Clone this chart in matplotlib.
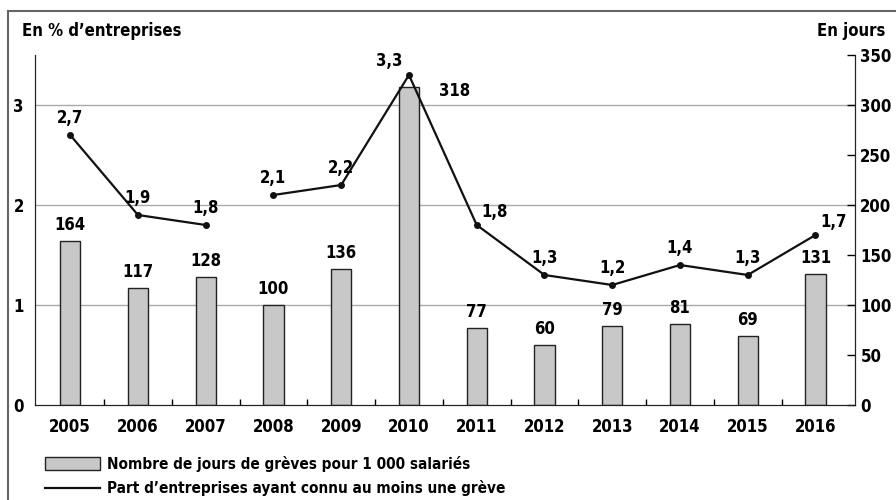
import numpy as np
import matplotlib.pyplot as plt
from matplotlib.lines import Line2D
from matplotlib.patches import Patch

plt.rcParams['font.family'] = ['DejaVu Sans']
plt.rcParams['font.stretch'] = 'condensed'
plt.rcParams['font.weight'] = 'bold'

# donnees
annees = ['2005', '2006', '2007', '2008', '2009', '2010', '2011', '2012', '2013', '2014', '2015', '2016']
jours = [164, 117, 128, 100, 136, 318, 77, 60, 79, 81, 69, 131]
part = [2.7, 1.9, 1.8, 2.1, 2.2, 3.3, 1.8, 1.3, 1.2, 1.4, 1.3, 1.7]
part_txt = ['2,7', '1,9', '1,8', '2,1', '2,2', '3,3', '1,8', '1,3', '1,2', '1,4', '1,3', '1,7']
rupture = 3  # serie interrompue entre 2007 et 2008

fig = plt.figure(figsize=(8.96, 5), dpi=100)
ax = fig.add_axes([0.039, 0.19, 0.915, 0.70])
ax2 = ax.twinx()

x = np.arange(len(annees))

# barres (axe de droite)
ax2.bar(x, jours, width=0.3, color='#c8c8c8', edgecolor='#222222', linewidth=1.0, zorder=2)
for i, v in enumerate(jours):
    if annees[i] == '2010':
        ax2.text(i + 0.45, v - 4, str(v), ha='left', va='center', fontsize=12)
    else:
        ax2.text(i, v + 7, str(v), ha='center', va='bottom', fontsize=12)
ax2.set_ylim(0, 350)
ax2.set_yticks(range(0, 351, 50))
ax2.tick_params(axis='y', direction='in', length=6, width=1, labelsize=12, pad=4)
ax2.grid(False)

# courbe (axe de gauche), tracee au-dessus des barres
ax.set_zorder(ax2.get_zorder() + 1)
ax.patch.set_visible(False)
ax.plot(x[:rupture], part[:rupture], color='#111111', lw=1.6, marker='o', ms=4)
ax.plot(x[rupture:], part[rupture:], color='#111111', lw=1.6, marker='o', ms=4)
for i, (v, t) in enumerate(zip(part, part_txt)):
    if annees[i] in ('2011', '2016'):
        ax.text(i + 0.07, v + 0.04, t, ha='left', va='bottom', fontsize=12)
    elif annees[i] == '2010':
        ax.text(i - 0.1, v + 0.05, t, ha='right', va='bottom', fontsize=12)
    else:
        ax.text(i, v + 0.08, t, ha='center', va='bottom', fontsize=12)

ax.set_ylim(0, 3.5)
ax.set_yticks([0, 1, 2, 3])
ax.tick_params(axis='y', length=0, labelsize=12, pad=8)
ax.set_xlim(-0.52, len(annees) - 0.42)
ax.set_xticks(x)
ax.set_xticklabels(annees)
ax.set_xticks(x[:-1] + 0.5, minor=True)
ax.tick_params(axis='x', which='major', length=0, labelsize=12, pad=9)
ax.tick_params(axis='x', which='minor', direction='in', length=4, width=1)
for yv in [1, 2, 3]:
    ax2.axhline(yv * 100, color='#aaaaaa', lw=1, zorder=0)

for a in (ax, ax2):
    a.spines['top'].set_visible(False)
    a.spines['left'].set_color('#222222')
    a.spines['right'].set_color('#222222')
    a.spines['bottom'].set_color('#222222')

fig.text(0.025, 0.938, "En % d\u2019entreprises", fontsize=12, ha='left', va='center')
fig.text(0.988, 0.938, "En jours", fontsize=12, ha='right', va='center')

# legende
handles = [Patch(facecolor='#c8c8c8', edgecolor='#222222', lw=1.0),
           Line2D([], [], color='#111111', lw=1.6)]
labels = ['Nombre de jours de gr\u00e8ves pour 1 000 salari\u00e9s',
          'Part d\u2019entreprises ayant connu au moins une gr\u00e8ve']
fig.legend(handles, labels, loc='upper left', bbox_to_anchor=(0.05, 0.088),
           frameon=False, fontsize=11, handlelength=3.6, handleheight=0.9,
           labelspacing=0.55, handletextpad=0.45, borderaxespad=0, borderpad=0)

# cadre
fig.add_artist(Line2D([0.009, 0.009], [0, 0.978], color='#666666', lw=1.5))
fig.add_artist(Line2D([0.009, 1], [0.978, 0.978], color='#666666', lw=1.5))

fig.savefig('out.png', dpi=100)
